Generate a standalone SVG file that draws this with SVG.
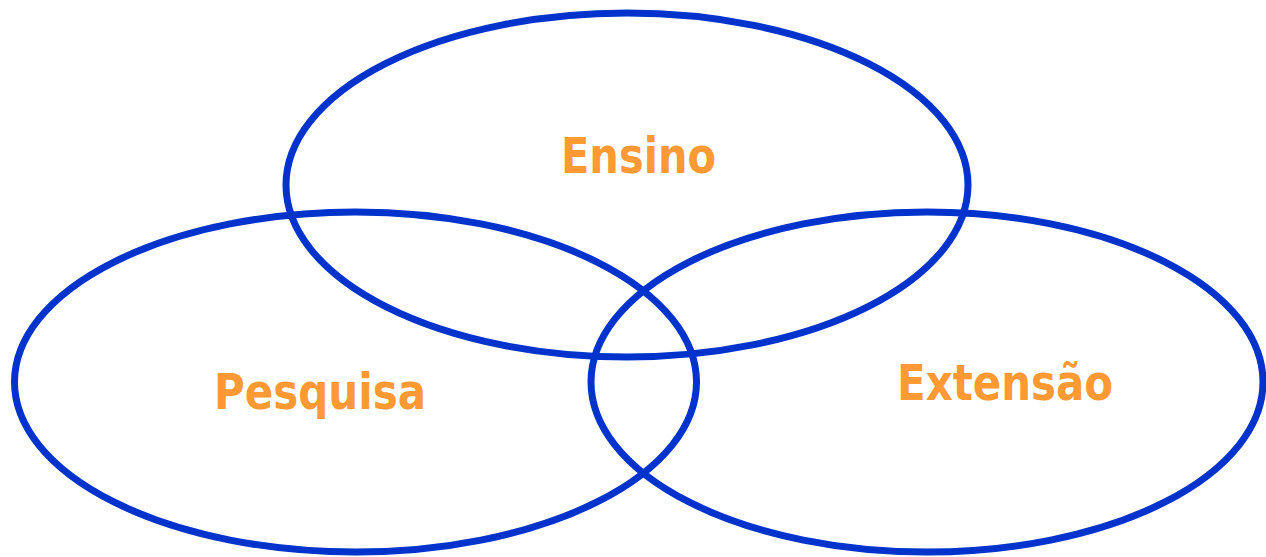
<svg xmlns="http://www.w3.org/2000/svg" width="1266" height="557" viewBox="0 0 1266 557">
<style>
.ring{fill:none;stroke:#0033CC;stroke-width:7}
.lbl{font-family:"DejaVu Sans",sans-serif;font-weight:bold;font-size:49px;fill:#FF9933}
</style>
<rect width="1266" height="557" fill="#ffffff"/>
<g id="ensino">
<ellipse class="ring" cx="627" cy="185" rx="341" ry="172"/>
<text class="lbl" x="561" y="173" textLength="155" lengthAdjust="spacingAndGlyphs">Ensino</text>
</g>
<g id="pesquisa">
<ellipse class="ring" cx="355.5" cy="382" rx="341" ry="170"/>
<text class="lbl" x="214" y="409" textLength="212" lengthAdjust="spacingAndGlyphs">Pesquisa</text>
</g>
<g id="extensao">
<ellipse class="ring" cx="927" cy="382" rx="336" ry="170"/>
<text class="lbl" x="897" y="400" textLength="216" lengthAdjust="spacingAndGlyphs">Extensão</text>
</g>
<g id="connectors"></g>
</svg>
